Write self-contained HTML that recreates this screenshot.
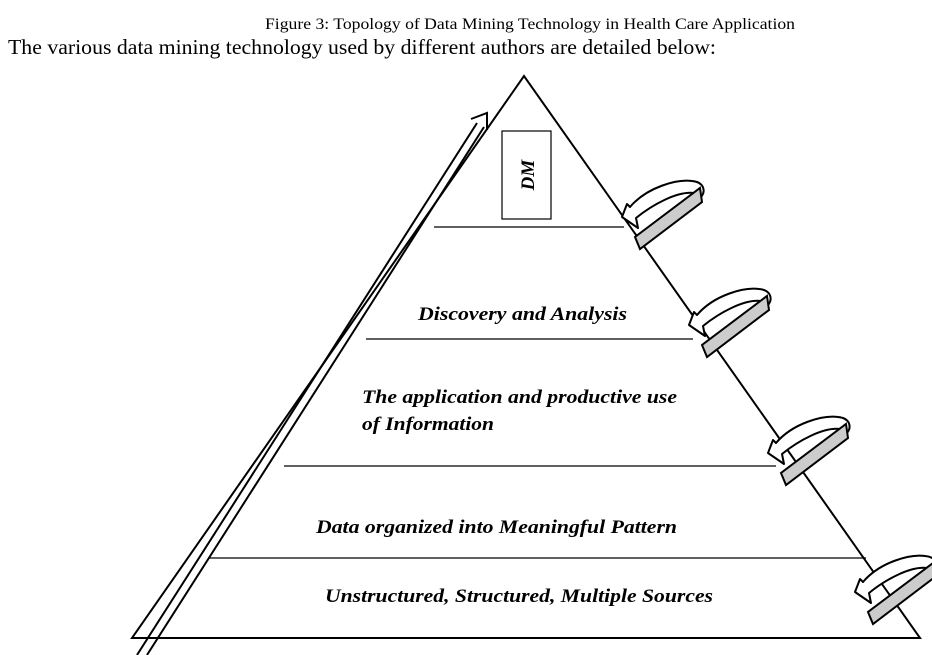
<!DOCTYPE html>
<html><head><meta charset="utf-8"><style>
html,body{margin:0;padding:0;background:#fff;width:932px;height:655px;overflow:hidden}
svg{display:block}
.t{font-family:"Liberation Serif",serif;font-weight:bold;font-style:italic;font-size:19px}
</style></head><body>
<svg width="932" height="655" viewBox="0 0 932 655" xmlns="http://www.w3.org/2000/svg">
<text x="265" y="29" font-family="Liberation Serif,serif" font-size="15.5" textLength="530" lengthAdjust="spacingAndGlyphs">Figure 3: Topology of Data Mining Technology in Health Care Application</text>
<text x="8" y="54" font-family="Liberation Serif,serif" font-size="21" textLength="708" lengthAdjust="spacingAndGlyphs">The various data mining technology used by different authors are detailed below:</text>
<polygon points="524,76 132,638 920,638" fill="none" stroke="#000" stroke-width="2"/>
<g stroke="#000" stroke-width="1.2">
<line x1="434" y1="227" x2="624" y2="227"/>
<line x1="366" y1="339" x2="693" y2="339"/>
<line x1="284" y1="466" x2="776" y2="466"/>
<line x1="208" y1="558" x2="866" y2="558"/>
</g>
<g stroke="#000" stroke-width="2" fill="none">
<line x1="137" y1="655" x2="477" y2="123"/>
<line x1="147" y1="655" x2="484" y2="127"/>
<polyline points="471,119 487,113 487,130"/>
</g>
<rect x="502" y="131" width="49" height="88" fill="#fff" stroke="#000" stroke-width="1.2"/>
<text class="t" transform="translate(534,175) rotate(-90)" text-anchor="middle">DM</text>
<text class="t" x="418" y="320" textLength="209" lengthAdjust="spacingAndGlyphs">Discovery and Analysis</text>
<text class="t" x="362" y="403" textLength="315" lengthAdjust="spacingAndGlyphs">The application and productive use</text>
<text class="t" x="362" y="430" textLength="132" lengthAdjust="spacingAndGlyphs">of Information</text>
<text class="t" x="316" y="533" textLength="361" lengthAdjust="spacingAndGlyphs">Data organized into Meaningful Pattern</text>
<text class="t" x="325" y="602" textLength="388" lengthAdjust="spacingAndGlyphs">Unstructured, Structured, Multiple Sources</text>
<defs>
<g id="curl">
<path d="M8,-10 C25,-30 55,-38 70,-36 C82,-35 84,-26 79,-20 L72,-24 C55,-26 30,-12 14,1 L16,11 L0,0 L5,-13 Z" fill="#fff" stroke="#000" stroke-width="2" stroke-linejoin="round"/>
<polygon points="78,-29 80,-15 18,32 13,20" fill="#ccc" stroke="#000" stroke-width="2"/>
</g>
</defs>
<use href="#curl" x="622" y="217"/>
<use href="#curl" x="689" y="325"/>
<use href="#curl" x="768" y="453"/>
<use href="#curl" x="855" y="592"/>
</svg>
</body></html>
